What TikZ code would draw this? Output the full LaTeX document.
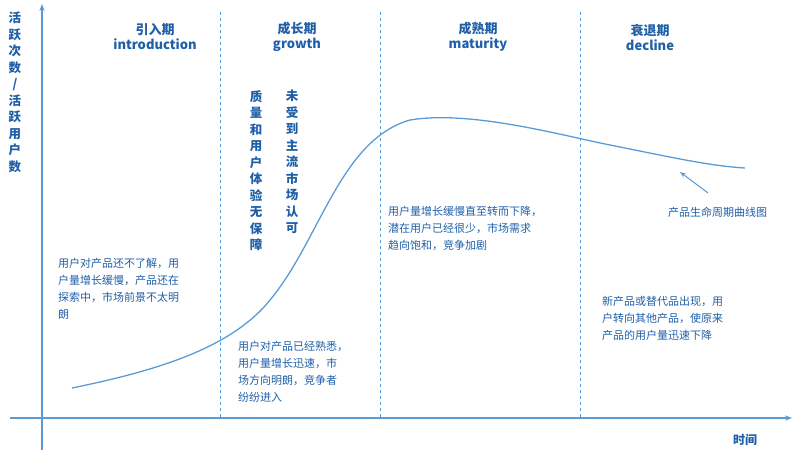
\documentclass[tikz,border=0pt]{standalone}
\usepackage{fontspec}
\setmainfont{Noto Sans CJK SC}
\usetikzlibrary{arrows.meta}
\definecolor{axisblue}{RGB}{91,155,213}
\definecolor{textblue}{RGB}{31,95,168}
\tikzset{
  phase/.style={font=\bfseries\fontsize{13}{15}\selectfont,text=textblue,align=center},
  note/.style={font=\fontsize{11}{17}\selectfont,text=textblue,align=left,anchor=north west,inner sep=0pt},
  column/.style={font=\bfseries\fontsize{12.5}{16.5}\selectfont,text=textblue,align=center,anchor=north,inner sep=0pt},
  divider/.style={axisblue,dashed,thin}
}
\begin{document}
\begin{tikzpicture}[x=1pt,y=1pt,yscale=-1]
\useasboundingbox (0,0) rectangle (800,456);

% axes
\coordinate (ybot) at (42,450);
\coordinate (ytop) at (42,4);
\coordinate (xl) at (10,418);
\coordinate (xr) at (792,418);
\draw[axisblue,line width=1.2pt,-{Stealth[length=7pt]}] (ybot) -- (ytop);
\draw[axisblue,line width=1.2pt,-{Stealth[length=7pt]}] (xl) -- (xr);

% phase dividers
\foreach \px in {220,380,580}
  \draw[divider] (\px,12) -- (\px,418);

% life-cycle curve
\draw[axisblue,line width=1.3pt] (72,388) .. controls (150,372) and (230,350) .. (270,300)
  .. controls (320,240) and (340,140) .. (410,120)
  .. controls (470,110) and (560,135) .. (610,145)
  .. controls (670,157) and (710,166) .. (745,168);

% axis labels
\node[font=\bfseries\fontsize{12.5}{16.5}\selectfont,text=textblue,align=center,anchor=north,inner sep=0pt] (ylab) at (15,12) {活\\跃\\次\\数\\/\\活\\跃\\用\\户\\数};
\node[font=\bfseries\fontsize{12}{14}\selectfont,text=textblue] (xlab) at (745,440) {时间};

% phases
\node[phase] (intro) at (155,37) {引入期\\introduction};
\node[phase] (grow) at (297,37) {成长期\\growth};
\node[phase] (mature) at (478,37) {成熟期\\maturity};
\node[phase] (decl) at (650,37) {衰退期\\decline};

% vertical notes
\node[column] (quality) at (256,90) {质\\量\\和\\用\\户\\体\\验\\无\\保\\障};
\node[column] (market) at (292,90) {未\\受\\到\\主\\流\\市\\场\\认\\可};

% phase notes
\node[note] (introtxt) at (58,258) {用户对产品还不了解，用\\户量增长缓慢，产品还在\\探索中，市场前景不太明\\朗};
\node[note] (growtxt) at (238,341) {用户对产品已经熟悉，\\用户量增长迅速，市\\场方向明朗，竞争者\\纷纷进入};
\node[note] (maturetxt) at (388,206) {用户量增长缓慢直至转而下降，\\潜在用户已经很少，市场需求\\趋向饱和，竞争加剧};
\node[note] (decltxt) at (602,296) {新产品或替代品出现，用\\户转向其他产品，使原来\\产品的用户量迅速下降};

% curve label
\node[note] (curvelab) at (668,207) {产品生命周期曲线图};
\coordinate (tip) at (680,172);
\draw[axisblue,line width=1pt,-{Stealth[length=6pt]}] (708,193) -- (tip);
\end{tikzpicture}
\end{document}
